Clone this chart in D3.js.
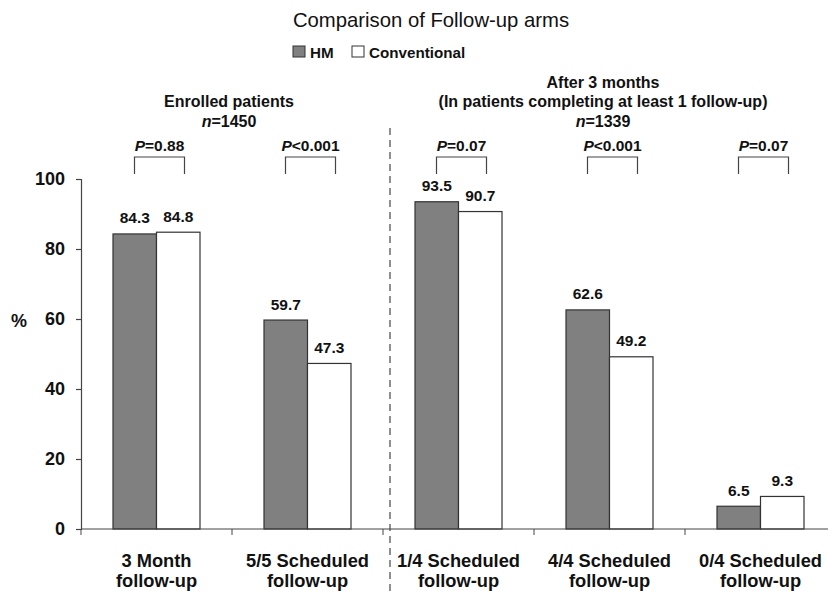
<!DOCTYPE html>
<html>
<head>
<meta charset="utf-8">
<script src="https://cdn.jsdelivr.net/npm/d3@7"></script>
<style>
  body { margin: 0; background: #fff; }
  text { font-family: "Liberation Sans", Arial, sans-serif; fill: #111; }
</style>
</head>
<body>
<svg id="chart" width="828" height="591"></svg>
<script>
// data
const categories = ["3 Month|follow-up", "5/5 Scheduled|follow-up", "1/4 Scheduled|follow-up",
                    "4/4 Scheduled|follow-up", "0/4 Scheduled|follow-up"];
const hmValues = [84.3, 59.7, 93.5, 62.6, 6.5];
const convValues = [84.8, 47.3, 90.7, 49.2, 9.3];
const pValues = ["=0.88", "<0.001", "=0.07", "<0.001", "=0.07"];
const yTicks = [0, 20, 40, 60, 80, 100];
const seriesNames = ["HM", "Conventional"];

const svg = d3.select("#chart");
const plotLeft = 81, plotRight = 836, plotTop = 179, plotBottom = 529;

const x = d3.scaleBand().domain(categories).range([plotLeft, plotRight]).padding(0);
const y = d3.scaleLinear().domain([0, 100]).range([plotBottom, plotTop]);
const barW = 43.5;
const colors = ["#808080", "#ffffff"];

// title
svg.append("text")
    .attr("x", 431).attr("y", 27)
    .attr("text-anchor", "middle")
    .style("font-size", "20.3px")
    .text("Comparison of Follow-up arms");

// legend
const legend = svg.append("g");
const legX = [293, 352];
seriesNames.forEach((name, i) => {
  legend.append("rect")
      .attr("x", legX[i]).attr("y", 46)
      .attr("width", 12).attr("height", 11)
      .attr("fill", colors[i]).attr("stroke", "#333").attr("stroke-width", 1);
  legend.append("text")
      .attr("x", legX[i] + 17).attr("y", 57.5)
      .style("font-size", "15.2px").style("font-weight", "bold")
      .text(name);
});

// group headers
function header(cx, lines) {
  lines.forEach(l => {
    const t = svg.append("text")
        .attr("x", cx).attr("y", l.y)
        .attr("text-anchor", "middle")
        .style("font-size", "16px").style("font-weight", "bold");
    if (l.n) {
      t.append("tspan").style("font-style", "italic").text("n");
      t.append("tspan").text(l.n);
    } else {
      t.text(l.text);
    }
  });
}
header(229, [{ y: 107, text: "Enrolled patients" }, { y: 127, n: "=1450" }]);
header(603, [{ y: 88, text: "After 3 months" },
             { y: 107, text: "(In patients completing at least 1 follow-up)" },
             { y: 127, n: "=1339" }]);

// divider
svg.append("line")
    .attr("x1", 390).attr("x2", 390)
    .attr("y1", 128).attr("y2", 591)
    .attr("stroke", "#555").attr("stroke-width", 1.3)
    .attr("stroke-dasharray", "7,5");

// y axis
const yAxis = svg.append("g")
    .attr("transform", "translate(" + plotLeft + ",0)")
    .call(d3.axisLeft(y).tickValues(yTicks).tickSize(5).tickPadding(11));
yAxis.select(".domain").attr("stroke", "#444").attr("stroke-width", 1.2);
yAxis.selectAll(".tick line").attr("stroke", "#444").attr("stroke-width", 1.2);
yAxis.selectAll(".tick text")
    .style("font-size", "18px").style("font-weight", "bold")
    .style("font-family", "'Liberation Sans', Arial, sans-serif").attr("fill", "#111");

svg.append("text")
    .attr("x", 19).attr("y", 327)
    .attr("text-anchor", "middle")
    .style("font-size", "18px").style("font-weight", "bold")
    .text("%");

// bars
const groups = svg.selectAll(".cat").data(categories).enter()
    .append("g").attr("class", "cat");

groups.each(function(c, i) {
  const g = d3.select(this);
  const cx = x(c) + x.bandwidth() / 2;
  const vals = [hmValues[i], convValues[i]];
  vals.forEach((v, j) => {
    const bx = cx - barW + j * barW;
    g.append("rect")
        .attr("x", bx).attr("y", y(v))
        .attr("width", barW).attr("height", y(0) - y(v))
        .attr("fill", colors[j]).attr("stroke", "#333").attr("stroke-width", 1.2);
    g.append("text")
        .attr("x", bx + barW / 2).attr("y", y(v) - 10.5)
        .attr("text-anchor", "middle")
        .style("font-size", "15.5px").style("font-weight", "bold")
        .text(v.toFixed(1));
  });

  // bracket + p value
  const b0 = cx - 22, b1 = cx + 28;
  g.append("path")
      .attr("d", "M" + b0 + ",174V157H" + b1 + "V174")
      .attr("fill", "none").attr("stroke", "#444").attr("stroke-width", 1.2);
  const pt = g.append("text")
      .attr("x", (b0 + b1) / 2).attr("y", 151)
      .attr("text-anchor", "middle")
      .style("font-size", "15.5px").style("font-weight", "bold");
  pt.append("tspan").style("font-style", "italic").text("P");
  pt.append("tspan").text(pValues[i]);

  // category label
  c.split("|").forEach((line, k) => {
    g.append("text")
        .attr("x", cx).attr("y", 567 + k * 20)
        .attr("text-anchor", "middle")
        .style("font-size", "18.3px").style("font-weight", "bold")
        .text(line);
  });
});

// x axis line and boundary ticks
svg.append("line")
    .attr("x1", plotLeft).attr("x2", 828)
    .attr("y1", plotBottom).attr("y2", plotBottom)
    .attr("stroke", "#444").attr("stroke-width", 1.2);
svg.selectAll(".xtick").data(categories).enter()
    .append("line").attr("class", "xtick")
    .attr("x1", d => x(d)).attr("x2", d => x(d))
    .attr("y1", plotBottom).attr("y2", plotBottom + 6)
    .attr("stroke", "#444");
</script>
</body>
</html>
